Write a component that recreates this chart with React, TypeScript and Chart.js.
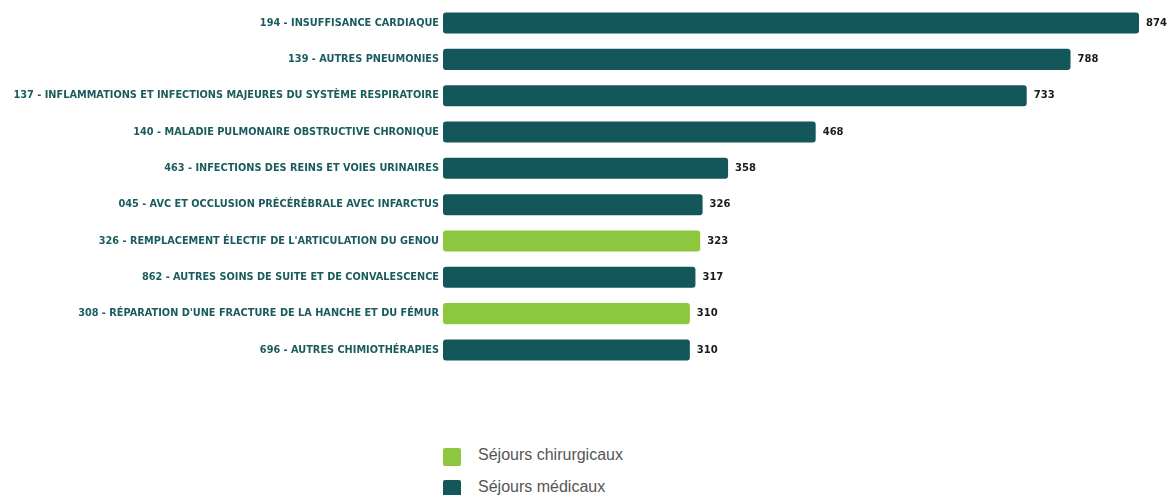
import React, { useEffect, useRef } from "react";
import { Chart, registerables } from "chart.js";

Chart.register(...registerables);

const categories = [
  "194 - INSUFFISANCE CARDIAQUE",
  "139 - AUTRES PNEUMONIES",
  "137 - INFLAMMATIONS ET INFECTIONS MAJEURES DU SYSTÈME RESPIRATOIRE",
  "140 - MALADIE PULMONAIRE OBSTRUCTIVE CHRONIQUE",
  "463 - INFECTIONS DES REINS ET VOIES URINAIRES",
  "045 - AVC ET OCCLUSION PRÉCÉRÉBRALE AVEC INFARCTUS",
  "326 - REMPLACEMENT ÉLECTIF DE L'ARTICULATION DU GENOU",
  "862 - AUTRES SOINS DE SUITE ET DE CONVALESCENCE",
  "308 - RÉPARATION D'UNE FRACTURE DE LA HANCHE ET DU FÉMUR",
  "696 - AUTRES CHIMIOTHÉRAPIES",
];
const values = [874, 788, 733, 468, 358, 326, 323, 317, 310, 310];
const kinds = ["med", "med", "med", "med", "med", "med", "chir", "med", "chir", "med"];

const surgicalLabel = "Séjours chirurgicaux";
const medicalLabel = "Séjours médicaux";
const surgicalData = values.map((v, i) => (kinds[i] === "chir" ? v : null));
const medicalData = values.map((v, i) => (kinds[i] === "med" ? v : null));

const GREEN = "#8dc63f";
const TEAL = "#14575b";

const valueLabels = {
  id: "valueLabels",
  afterDatasetsDraw(chart: any) {
    const ctx = chart.ctx;
    ctx.save();
    ctx.font = "bold 10px 'DejaVu Sans'";
    ctx.fillStyle = "#1a1a1a";
    ctx.textBaseline = "middle";
    ctx.textAlign = "left";
    chart.data.datasets.forEach((ds: any, di: number) => {
      const meta = chart.getDatasetMeta(di);
      meta.data.forEach((el: any, i: number) => {
        const v = ds.data[i];
        if (v == null) return;
        ctx.fillText(String(v), el.x + 7, el.y);
      });
    });
    ctx.restore();
  },
};

export default function App() {
  const ref = useRef<HTMLCanvasElement>(null);
  useEffect(() => {
    const chart = new Chart(ref.current!, {
      type: "bar",
      data: {
        labels: categories,
        datasets: [
          {
            label: surgicalLabel,
            data: surgicalData,
            backgroundColor: GREEN,
            borderRadius: 3,
            borderSkipped: false,
            barPercentage: 0.58,
            categoryPercentage: 1,
          },
          {
            label: medicalLabel,
            data: medicalData,
            backgroundColor: TEAL,
            borderRadius: 3,
            borderSkipped: false,
            barPercentage: 0.58,
            categoryPercentage: 1,
          },
        ],
      },
      options: {
        indexAxis: "y",
        animation: false,
        responsive: false,
        maintainAspectRatio: false,
        layout: { padding: { left: 0, right: 30, top: 0, bottom: 0 } },
        plugins: { legend: { display: false }, tooltip: { enabled: false } },
        scales: {
          x: { display: false, min: 0, max: 874, stacked: true },
          y: {
            stacked: true,
            grid: { display: false, drawTicks: false },
            border: { display: false },
            afterFit(scale: any) {
              scale.width = 443;
            },
            ticks: {
              color: "#1a5c5e",
              font: { family: "'DejaVu Sans'", size: 9.75, weight: "bold" },
              padding: 4,
            },
          },
        },
      },
      plugins: [valueLabels],
    });
    return () => chart.destroy();
  }, []);

  const legendItem = (color: string, text: string, top: number) => (
    <div style={{ position: "absolute", left: 443, top, height: 18 }}>
      <div
        style={{
          position: "absolute",
          left: 0,
          top: 0,
          width: 18,
          height: 18,
          background: color,
          borderRadius: 2,
        }}
      />
      <span
        style={{
          position: "absolute",
          left: 35,
          top: -2,
          lineHeight: "18px",
          fontFamily: "'Liberation Sans', Arial, sans-serif",
          fontSize: 16,
          color: "#555",
          whiteSpace: "nowrap",
        }}
      >
        {text}
      </span>
    </div>
  );

  return (
    <div style={{ position: "absolute", left: 0, top: 0, width: 1169, height: 495, overflow: "hidden", background: "#fff" }}>
      <canvas ref={ref} width={1169} height={383} style={{ display: "block", position: "absolute", left: 0, top: -5 }} />
      {legendItem(GREEN, surgicalLabel, 448)}
      {legendItem(TEAL, medicalLabel, 480)}
    </div>
  );
}
